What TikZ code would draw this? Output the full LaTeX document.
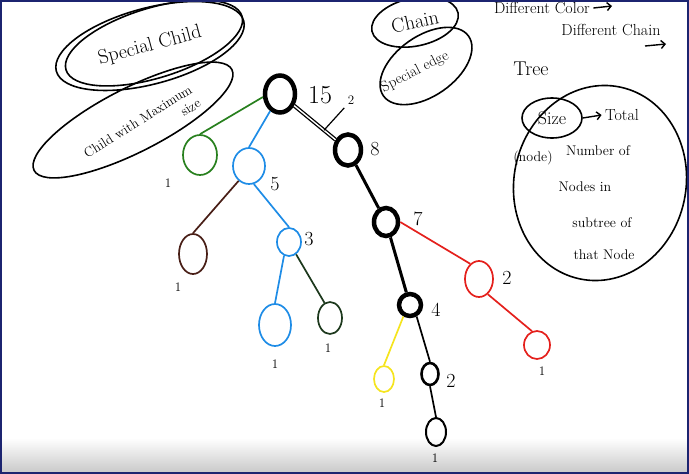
\documentclass[tikz,border=0pt]{standalone}
\usepackage{tikz}
\usetikzlibrary{arrows.meta,positioning,shapes.geometric}
\definecolor{FrameBlue}{RGB}{28,36,112}
\definecolor{InkGreen}{RGB}{40,128,30}
\definecolor{InkBlue}{RGB}{30,140,230}
\definecolor{InkBrown}{RGB}{72,30,22}
\definecolor{InkDarkGreen}{RGB}{28,56,28}
\definecolor{InkRed}{RGB}{228,32,28}
\definecolor{InkYellow}{RGB}{245,228,30}
\tikzset{
  heavy/.style={draw=black,line width=4.5pt,ellipse,inner sep=0pt},
  medium/.style={draw=black,line width=2.6pt,ellipse,inner sep=0pt},
  leaf/.style={draw,line width=1.7pt,ellipse,inner sep=0pt},
  ring/.style={draw=black,line width=1.6pt,ellipse,inner sep=0pt},
  ringline/.style={draw=black,line width=1.6pt},
  numlabel/.style={font=\fontsize{20}{22}\selectfont},
  onelabel/.style={font=\fontsize{13}{15}\selectfont},
  note/.style={font=\fontsize{16}{18}\selectfont},
  bignote/.style={font=\fontsize{20}{22}\selectfont},
  smallnote/.style={font=\fontsize{14}{16}\selectfont},
  chainedge/.style={draw=black,line width=1.3pt,double,double distance=1.4pt},
  heavyedge/.style={draw=black,line width=3pt},
  inkedge/.style={line width=1.7pt},
  pointer/.style={-{Straight Barb[length=4pt]},line width=1.4pt}
}

\begin{document}
\begin{tikzpicture}[x=1pt,y=-1pt]
  \useasboundingbox (0,0) rectangle (689,474);
  \shade[top color=white,bottom color=black!22] (0,438) rectangle (689,474);

  \node[ring,minimum width=194,minimum height=76,rotate=15,bignote] (spchild) at (150,46) {Special Child};
  \node[ring,minimum width=184,minimum height=70,rotate=17] (spchildb) at (154,43) {};
  \draw[ringline,rotate around={27:(133,120)}] (133,120) ellipse [x radius=111,y radius=32];
  \node[font=\fontsize{13.5}{16}\selectfont,rotate=32,align=right] (maxchildtxt) at (142,128) {Child with Maximum\\size};

  \node[ring,minimum width=88,minimum height=48,rotate=12,bignote] (chainring) at (415,22) {Chain};
  \draw[ringline,rotate around={35:(426,66)}] (426,66) ellipse [x radius=52,y radius=30];
  \node[font=\fontsize{15}{17}\selectfont,rotate=27] (edgetxt) at (415,72) {Special edge};

  \node[note] (diffcolor) at (542,8) {Different Color};
  \coordinate (colorarrow) at (612,6);
  \draw[pointer] (diffcolor.east) -- (colorarrow);
  \node[note] (diffchain) at (611,30) {Different Chain};
  \coordinate (chainarrowa) at (645,46);
  \coordinate (chainarrowb) at (666,44);
  \draw[pointer] (chainarrowa) -- (chainarrowb);

  \node[bignote] (treetxt) at (531,69) {Tree};
  \draw[ringline,rotate around={-12:(600,183)}] (600,183) ellipse [x radius=86,y radius=98];
  \node[ring,minimum width=60,minimum height=40,font=\fontsize{18}{20}\selectfont] (sizering) at (552,118) {Size};
  \node[note] (total) at (622,115) {Total};
  \draw[pointer] (sizering.east) -- (total.west);
  \node[smallnote] (nodetxt) at (533,158) {(node)};
  \node[smallnote] (numbertxt) at (598,151) {Number of};
  \node[smallnote] (nodesin) at (585,187) {Nodes in};
  \node[smallnote] (subtree) at (602,223) {subtree of};
  \node[smallnote] (thatnode) at (604,255) {that Node};

  \node[heavy,minimum width=30,minimum height=37] (root) at (280,94) {};
  \node[heavy,minimum width=26,minimum height=31] (c8) at (348,150) {};
  \node[heavy,minimum width=24,minimum height=28] (c7) at (386,222) {};
  \node[heavy,minimum width=22,minimum height=22] (c4) at (410,305) {};
  \node[medium,minimum width=17,minimum height=22] (c2) at (430,374) {};
  \node[leaf,draw=black,line width=2pt,minimum width=20,minimum height=28] (cleaf) at (436,432) {};
  \node[leaf,draw=InkGreen,minimum width=34,minimum height=40] (gleaf) at (200,155) {};
  \node[leaf,draw=InkBlue,minimum width=32,minimum height=36] (b5) at (249,166) {};
  \node[leaf,draw=InkBrown,minimum width=28,minimum height=40] (brleaf) at (193,254) {};
  \node[leaf,draw=InkBlue,minimum width=24,minimum height=28] (b3) at (289,242) {};
  \node[leaf,draw=InkBlue,minimum width=32,minimum height=42] (bleaf) at (275,325) {};
  \node[leaf,draw=InkDarkGreen,minimum width=24,minimum height=32] (dgleaf) at (330,318) {};
  \node[leaf,draw=InkRed,minimum width=28,minimum height=36] (r2) at (479,279) {};
  \node[leaf,draw=InkRed,minimum width=26,minimum height=28] (rleaf) at (537,345) {};
  \node[leaf,draw=InkYellow,minimum width=20,minimum height=26] (yleaf) at (384,379) {};

  \draw[chainedge] (root) -- coordinate[pos=0.72] (twomark) (c8);
  \draw[heavyedge] (c8) -- (c7);
  \draw[heavyedge] (c7) -- (c4);
  \draw[inkedge] (c4.300) -- (c2.north);
  \draw[inkedge] (c2.south) -- (cleaf.north);
  \draw[inkedge,InkGreen] (root.190) -- (gleaf.north);
  \draw[inkedge,InkBlue] (root.240) -- (b5.north);
  \draw[inkedge,InkBrown] (b5.235) -- (brleaf.north);
  \draw[inkedge,InkBlue] (b5.285) -- (b3.north);
  \draw[inkedge,InkBlue] (b3.250) -- (bleaf.north);
  \draw[inkedge,InkDarkGreen] (b3.300) -- (dgleaf.110);
  \draw[inkedge,InkRed] (c7.east) -- (r2.120);
  \draw[inkedge,InkRed] (r2.300) -- (rleaf.110);
  \draw[inkedge,InkYellow] (c4.240) -- (yleaf.north);

  \node[onelabel] (twolbl) at (351,100) {2};
  \draw[line width=1.2pt] (twomark) -- (twolbl.south west);

  \node[font=\fontsize{26}{28}\selectfont] (l15) at (320,95) {15};
  \node[numlabel] (l8) at (375,149) {8};
  \node[numlabel] (l7) at (418,219) {7};
  \node[numlabel] (l5) at (275,184) {5};
  \node[numlabel] (l3) at (309,239) {3};
  \node[numlabel] (l4) at (436,310) {4};
  \node[numlabel] (l2r) at (507,278) {2};
  \node[numlabel] (l2c) at (451,381) {2};
  \node[onelabel] (lg) at (168,183) {1};
  \node[onelabel] (lbr) at (178,287) {1};
  \node[onelabel] (lbl) at (275,364) {1};
  \node[onelabel] (ldg) at (328,348) {1};
  \node[onelabel] (lr) at (542,371) {1};
  \node[onelabel] (ly) at (382,403) {1};
  \node[onelabel] (lc) at (435,458) {1};

  \draw[line width=2.4pt,FrameBlue] (1.2,1.2) rectangle (687.8,472.8);
\end{tikzpicture}
\end{document}
